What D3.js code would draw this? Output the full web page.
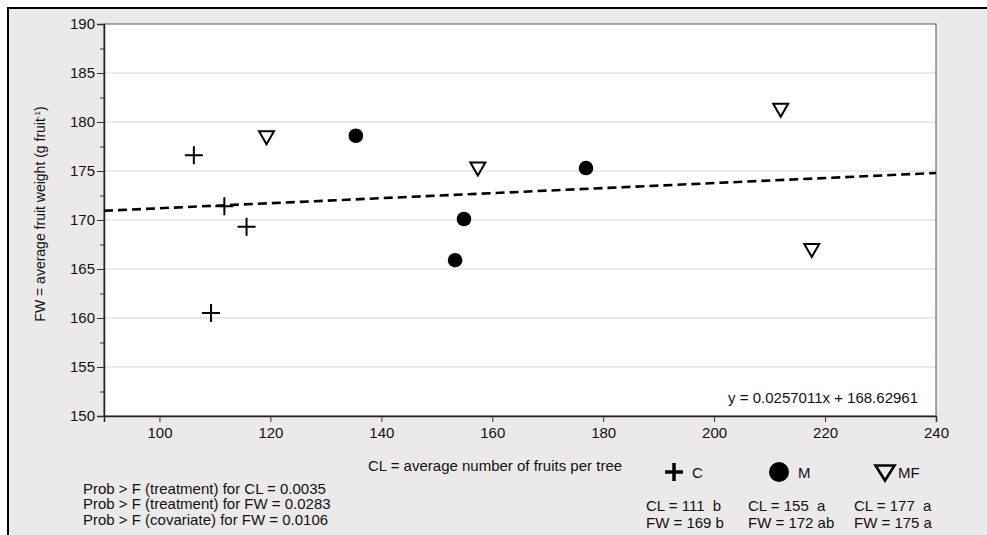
<!DOCTYPE html>
<html><head><meta charset="utf-8">
<script src="https://cdn.jsdelivr.net/npm/d3@7"></script>
<style>body{margin:0;background:#fff}svg{display:block}text{font-family:"Liberation Sans",Arial,sans-serif;fill:#111}</style>
</head><body><svg id="c" width="987" height="535"></svg>
<script>
const C_CL=[106.2,111.7,115.7,109.3], C_FW=[176.6,171.4,169.3,160.5];
const M_CL=[135.4,154.9,153.3,176.9], M_FW=[178.6,170.1,165.9,175.3];
const MF_CL=[119.3,157.4,212.0,217.6], MF_FW=[178.4,175.2,181.2,166.9];
const xTicks=[100,120,140,160,180,200,220,240];
const yTicks=[150,155,160,165,170,175,180,185,190];
const slope=0.0257011, intercept=168.62961;
const probLines=["Prob > F (treatment) for CL = 0.0035","Prob > F (treatment) for FW = 0.0283","Prob > F (covariate) for FW = 0.0106"];
const groups=["C","M","MF"];
const groupCL=["CL = 111  b","CL = 155  a","CL = 177  a"];
const groupFW=["FW = 169 b","FW = 172 ab","FW = 175 a"];

const svg=d3.select("#c");
const L=104,T=24,R=936,B=416;
const x=d3.scaleLinear().domain([90,240]).range([L,R]);
const y=d3.scaleLinear().domain([150,190]).range([B,T]);

svg.append("rect").attr("x",8).attr("y",8).attr("width",979).attr("height",527).attr("fill","#ebe9ea");
svg.append("line").attr("x1",7).attr("x2",987).attr("y1",8).attr("y2",8).attr("stroke","#000").attr("stroke-width",2);
svg.append("line").attr("x1",8).attr("x2",8).attr("y1",7).attr("y2",535).attr("stroke","#000").attr("stroke-width",2);
svg.append("rect").attr("x",L).attr("y",T).attr("width",R-L).attr("height",B-T).attr("fill","#fff");

// grid
svg.append("g").selectAll("line").data(yTicks.slice(1,-1)).join("line")
 .attr("x1",L).attr("x2",R).attr("y1",d=>y(d)).attr("y2",d=>y(d)).attr("stroke","#e4e4e4").attr("stroke-width",1.5);

svg.append("rect").attr("x",L).attr("y",T).attr("width",R-L).attr("height",B-T).attr("fill","none").attr("stroke","#555").attr("stroke-width",1);

// axes
const xa=svg.append("g").attr("transform",`translate(0,${B})`).call(d3.axisBottom(x).tickValues(xTicks).tickSize(6).tickPadding(5).tickFormat(d3.format("d")));
const ya=svg.append("g").attr("transform",`translate(${L},0)`).call(d3.axisLeft(y).tickValues(yTicks).tickSize(7).tickPadding(2).tickFormat(d3.format("d")));
[xa,ya].forEach(a=>{a.select(".domain").attr("stroke","#222").attr("stroke-width",1.5);a.selectAll(".tick line").attr("stroke","#333");a.selectAll("text").attr("font-size",15).attr("fill","#111").attr("font-family","Liberation Sans, Arial, sans-serif");});
svg.append("g").attr("transform",`translate(${L},0)`).call(d3.axisLeft(y).tickValues(d3.range(152.5,190,5)).tickSize(4).tickFormat("")).call(g=>{g.select(".domain").remove();g.selectAll("line").attr("stroke","#333");});

// regression line
svg.append("line").attr("x1",x(90)).attr("y1",y(slope*90+intercept)).attr("x2",x(240)).attr("y2",y(slope*240+intercept))
 .attr("stroke","#000").attr("stroke-width",2.6).attr("stroke-dasharray","9,5");

// points
const plusPath=(s)=>`M${-s},0H${s}M0,${-s}V${s}`;
const triPath=(w,h)=>`M${-w/2},${-h/2}L${w/2},${-h/2}L0,${h/2}Z`;
const cData=C_CL.map((d,i)=>[d,C_FW[i]]), mData=M_CL.map((d,i)=>[d,M_FW[i]]), mfData=MF_CL.map((d,i)=>[d,MF_FW[i]]);
svg.append("g").selectAll("path").data(cData).join("path").attr("d",plusPath(9)).attr("transform",d=>`translate(${x(d[0])},${y(d[1])})`).attr("stroke","#000").attr("stroke-width",2).attr("fill","none");
svg.append("g").selectAll("circle").data(mData).join("circle").attr("cx",d=>x(d[0])).attr("cy",d=>y(d[1])).attr("r",7.3).attr("fill","#000");
svg.append("g").selectAll("path").data(mfData).join("path").attr("d",triPath(15,13)).attr("transform",d=>`translate(${x(d[0])},${y(d[1])})`).attr("stroke","#000").attr("stroke-width",2).attr("fill","none").attr("stroke-linejoin","miter");

// equation
svg.append("text").attr("x",918).attr("y",403).attr("text-anchor","end").attr("font-size",15).text(`y = ${slope}x + ${intercept}`);

// axis titles
svg.append("text").attr("x",495).attr("y",470.5).attr("text-anchor","middle").attr("font-size",15).text("CL = average number of fruits per tree");
const yt=svg.append("text").attr("transform","translate(45,214) rotate(-90)").attr("text-anchor","middle").attr("font-size",14);
yt.append("tspan").text("FW = average fruit weight (g fruit");
yt.append("tspan").attr("font-size",8).attr("dy",-5).text("-1");
yt.append("tspan").attr("dy",5).text(")");

// prob lines
svg.append("g").selectAll("text").data(probLines).join("text").attr("x",83).attr("y",(d,i)=>493.5+i*15.5).attr("font-size",15).text(d=>d);

// legend
const lx=[674,779,885];
const lg=svg.append("g");
lg.append("path").attr("d",plusPath(9)).attr("transform",`translate(${lx[0]},472)`).attr("stroke","#000").attr("stroke-width",3.5);
lg.append("circle").attr("cx",lx[1]).attr("cy",472).attr("r",10).attr("fill","#000");
lg.append("path").attr("d",triPath(19,15)).attr("transform",`translate(${lx[2]},473)`).attr("stroke","#000").attr("stroke-width",2.6).attr("fill","none");
const lt=[692,798,898];
lg.selectAll("text.g").data(groups).join("text").attr("class","g").attr("x",(d,i)=>lt[i]).attr("y",477.5).attr("font-size",15).text(d=>d);
const sx=[646,748,854];
lg.selectAll("text.cl").data(groupCL).join("text").attr("class","cl").attr("x",(d,i)=>sx[i]).attr("y",510.5).attr("font-size",15).style("white-space","pre").text(d=>d);
lg.selectAll("text.fw").data(groupFW).join("text").attr("class","fw").attr("x",(d,i)=>sx[i]).attr("y",527.5).attr("font-size",15).text(d=>d);
</script></body></html>
